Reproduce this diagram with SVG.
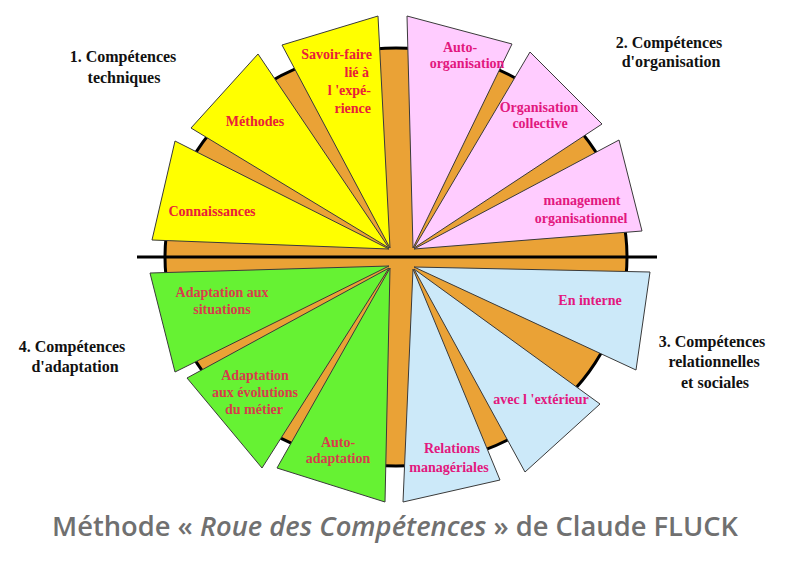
<svg xmlns="http://www.w3.org/2000/svg" width="791" height="575" viewBox="0 0 791 575">
<style>
.sec{stroke:#3a3a3a;stroke-width:1;stroke-linejoin:miter}
.y{fill:#ffff00}.p{fill:#ffccff}.b{fill:#cce9f9}.g{fill:#66f233}
.lbl{font-family:"Liberation Serif","Times New Roman",serif;font-weight:bold;font-size:14px}
.ly{fill:#e8203a}.lp{fill:#e2187e}.lg{fill:#d83c4c}
.cat{font-family:"Liberation Serif","Times New Roman",serif;font-weight:bold;font-size:16px;fill:#111;text-anchor:middle}
.title{font-family:"Open Sans","Noto Sans",sans-serif;font-weight:600;font-size:27px;fill:#707070}
</style>
<rect width="791" height="575" fill="#ffffff"/>
<g id="wheel">
<ellipse cx="396" cy="257" rx="231" ry="209" fill="#eaa236" stroke="#000" stroke-width="3"/>
<line x1="137" y1="257" x2="657" y2="257" stroke="#000" stroke-width="3"/>
</g>
<g id="connectors"></g>
<g id="s-savoir"><polygon class="sec y" points="390,248 282,45 378,16"/>
<text class="lbl ly" text-anchor="end"><tspan x="372" y="59">Savoir-faire</tspan><tspan x="369" y="77">lié à</tspan><tspan x="371" y="95">l 'expé-</tspan><tspan x="371" y="113">rience</tspan></text></g>
<g id="s-methodes"><polygon class="sec y" points="389,248 191,128 258,54"/>
<text class="lbl ly" x="255" y="126" text-anchor="middle">Méthodes</text></g>
<g id="s-connaissances"><polygon class="sec y" points="389,249 152,240 175,141"/>
<text class="lbl ly" x="212" y="216" text-anchor="middle">Connaissances</text></g>
<g id="s-autoorg"><polygon class="sec p" points="413,248 407,16 512,44"/>
<text class="lbl lp" text-anchor="middle"><tspan x="460" y="52">Auto-</tspan><tspan x="467" y="68">organisation</tspan></text></g>
<g id="s-orgcoll"><polygon class="sec p" points="414,248 530,52 602,124"/>
<text class="lbl lp" text-anchor="middle"><tspan x="539" y="112">Organisation</tspan><tspan x="540" y="128">collective</tspan></text></g>
<g id="s-mgmt"><polygon class="sec p" points="414,249 619,140 642,231"/>
<text class="lbl lp" text-anchor="middle"><tspan x="582" y="205">management</tspan><tspan x="581" y="223">organisationnel</tspan></text></g>
<g id="s-interne"><polygon class="sec b" points="414,267 650,272 636,370"/>
<text class="lbl lp" x="590" y="305" text-anchor="middle">En interne</text></g>
<g id="s-exterieur"><polygon class="sec b" points="414,269 600,404 525,472"/>
<text class="lbl lp" x="541" y="404" text-anchor="middle">avec l 'extérieur</text></g>
<g id="s-relations"><polygon class="sec b" points="413,269 500,480 403,502"/>
<text class="lbl lp" text-anchor="middle"><tspan x="452" y="453">Relations</tspan><tspan x="449" y="472">managériales</tspan></text></g>
<g id="s-situations"><polygon class="sec g" points="389,266 150,273 175,372"/>
<text class="lbl lg" text-anchor="middle"><tspan x="222" y="297">Adaptation aux</tspan><tspan x="222" y="314">situations</tspan></text></g>
<g id="s-evolutions"><polygon class="sec g" points="389,268 187,378 262,468"/>
<text class="lbl lg" text-anchor="middle"><tspan x="255" y="380">Adaptation</tspan><tspan x="255" y="397">aux évolutions</tspan><tspan x="254" y="414">du métier</tspan></text></g>
<g id="s-autoadapt"><polygon class="sec g" points="390,268 277,468 385,502"/>
<text class="lbl lg" text-anchor="middle"><tspan x="338" y="447">Auto-</tspan><tspan x="338" y="463">adaptation</tspan></text></g>
<g id="cat1"><text class="cat"><tspan x="123" y="62">1. Compétences</tspan><tspan x="124" y="83">techniques</tspan></text></g>
<g id="cat2"><text class="cat"><tspan x="669" y="48">2. Compétences</tspan><tspan x="671" y="67">d'organisation</tspan></text></g>
<g id="cat3"><text class="cat"><tspan x="712" y="347">3. Compétences</tspan><tspan x="714" y="367">relationnelles</tspan><tspan x="715" y="388">et sociales</tspan></text></g>
<g id="cat4"><text class="cat"><tspan x="72" y="352">4. Compétences</tspan><tspan x="75" y="372">d'adaptation</tspan></text></g>
<g id="title"><text class="title" x="52" y="536" textLength="686" lengthAdjust="spacingAndGlyphs">Méthode « <tspan font-style="italic">Roue des Compétences</tspan> » de Claude FLUCK</text></g>
</svg>
